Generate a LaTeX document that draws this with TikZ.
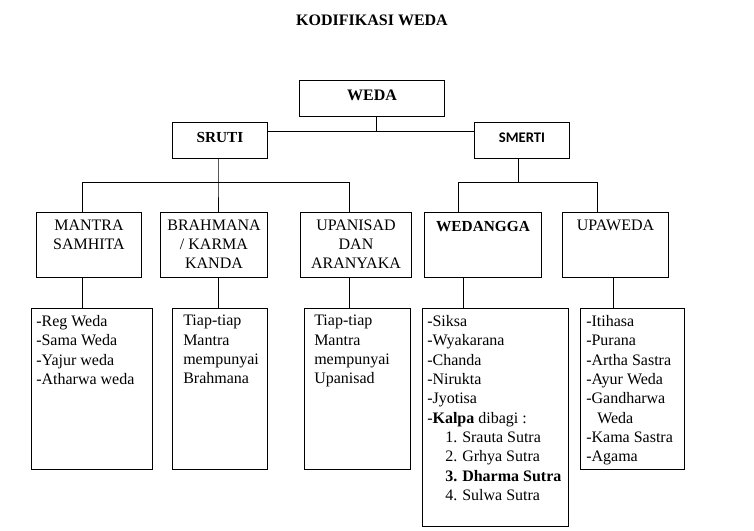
\documentclass[tikz,border=0pt]{standalone}
\usepackage{fontspec}
\setmainfont{Liberation Serif}
\newfontfamily\calibrifont{Carlito}
\begin{document}
\begin{tikzpicture}[x = 0.75pt, y = -0.75pt,
    box/.style  = {draw, line width=0.75pt, inner sep=0pt, anchor=north west},
    mid/.style  = {text height=8pt, text depth=4.5pt},
    head/.style = {font=\fontsize{12}{14.25}\selectfont, inner sep=0pt, align=center, anchor=north},
    txt/.style  = {font=\fontsize{12}{14.5}\selectfont, inner sep=0pt, align=left, anchor=north west},
    link/.style = {line width=0.75pt}]
        \useasboundingbox (0,0) rectangle (754,531);
        \coordinate (top)  at (376,132);
        \coordinate (ja)   at ( 82,183);
        \coordinate (jb)   at (218,183);
        \coordinate (jc)   at (349,183);
        \coordinate (jd)   at (458,183);
        \coordinate (je)   at (597,183);
        \coordinate (jf)   at (518,183);
        \coordinate (kd)   at (463,290);
        \coordinate (ke)   at (613,290);
        \node[font=\fontsize{12}{14}\selectfont\bfseries] (title) at (372,20) {KODIFIKASI WEDA};
        % level 1 and 2
        \node[box, mid, minimum width=108.75pt, minimum height=27pt, font=\fontsize{12}{14}\selectfont\bfseries] (weda) at (299,80) {WEDA};
        \node[box, mid, minimum width=71.25pt, minimum height=27pt, font=\fontsize{11.5}{14}\selectfont\bfseries] (sruti) at (172,122) {SRUTI};
        \node[box, text height=7pt, text depth=4pt, minimum width=71.25pt, minimum height=27pt, font=\fontsize{11}{13}\selectfont\calibrifont\bfseries] (smerti) at (474,122) {SMERTI};
        % level 3
        \node[box, minimum width=78.75pt, minimum height=48.75pt] (mantra)   at ( 36,212) {};
        \node[box, minimum width=80.25pt, minimum height=48.75pt] (brahmana) at (160,212) {};
        \node[box, minimum width=83.25pt, minimum height=48.75pt] (upanisad) at (300,212) {};
        \node[box, minimum width=87.75pt, minimum height=48.75pt] (wedangga) at (424,212) {};
        \node[box, minimum width=79.5pt,  minimum height=48.75pt] (upaweda)  at (562,212) {};
        \node[head] (mantratxt)   at ([yshift=-6pt]mantra.north)   {MANTRA\\SAMHITA};
        \node[head] (brahmanatxt) at ([yshift=-6pt]brahmana.north) {BRAHMANA\\/ KARMA\\KANDA};
        \node[head] (upanisadtxt) at ([yshift=-6pt]upanisad.north) {UPANISAD\\DAN\\ARANYAKA};
        \node[head, font=\fontsize{11.5}{14}\selectfont\bfseries] (wedanggatxt) at ([yshift=-6.75pt]wedangga.north) {WEDANGGA};
        \node[head] (upawedatxt)  at ([yshift=-6pt]upaweda.north)  {UPAWEDA};
        % level 4
        \node[box, minimum width=90.75pt, minimum height=120.75pt] (regw) at ( 31,308) {};
        \node[box, minimum width=71.25pt, minimum height=120.75pt] (brl)  at (172,308) {};
        \node[box, minimum width=79.5pt,  minimum height=120.75pt] (upl)  at (304,308) {};
        \node[box, minimum width=109.5pt, minimum height=163.5pt]  (wel)  at (422,308) {};
        \node[box, minimum width=78pt,    minimum height=120.75pt] (uwl)  at (580,308) {};
        \node[txt] (regwtxt) at ( 36,315) {-Reg Weda\\-Sama Weda\\-Yajur weda\\-Atharwa weda};
        \node[txt] (brltxt)  at (183,315) {Tiap-tiap\\Mantra\\mempunyai\\Brahmana};
        \node[txt] (upltxt)  at (314,315) {Tiap-tiap\\Mantra\\mempunyai\\Upanisad};
        \node[txt] (weltxt)  at (427,315) {-Siksa\\-Wyakarana\\-Chanda\\-Nirukta\\-Jyotisa\\
            -\textbf{Kalpa} dibagi :\\
            \hspace*{13.5pt}\makebox[12.75pt][l]{1.}Srauta Sutra\\
            \hspace*{13.5pt}\makebox[12.75pt][l]{2.}Grhya Sutra\\
            \hspace*{13.5pt}\textbf{\makebox[12.75pt][l]{3.}Dharma Sutra}\\
            \hspace*{13.5pt}\makebox[12.75pt][l]{4.}Sulwa Sutra};
        \node[txt] (uwltxt)  at (586,315) {-Itihasa\\-Purana\\-Artha Sastra\\-Ayur Weda\\-Gandharwa\\
            \hspace*{8.25pt}Weda\\-Kama Sastra\\-Agama};
        % connectors
        \draw[link] (weda.south -| top) -- (top);
        \draw[link] (sruti.east |- top) -- (smerti.west |- top);
        \draw[link] (sruti.south -| jb) -- (jb) -- (brahmana.north -| jb);
        \draw[link] (mantra.north -| ja) -- (ja) -- (jc) -- (upanisad.north -| jc);
        \draw[link] (smerti.south -| jf) -- (jf);
        \draw[link] (wedangga.north -| jd) -- (jd) -- (je) -- (upaweda.north -| je);
        \draw[link] (mantra.south -| ja)   -- (regw.north -| ja);
        \draw[link] (brahmana.south -| jb) -- (brl.north -| jb);
        \draw[link] (upanisad.south -| jc) -- (upl.north -| jc);
        \draw[link] (wedangga.south -| kd) -- (wel.north -| kd);
        \draw[link] (upaweda.south -| ke)  -- (uwl.north -| ke);
\end{tikzpicture}
\end{document}
